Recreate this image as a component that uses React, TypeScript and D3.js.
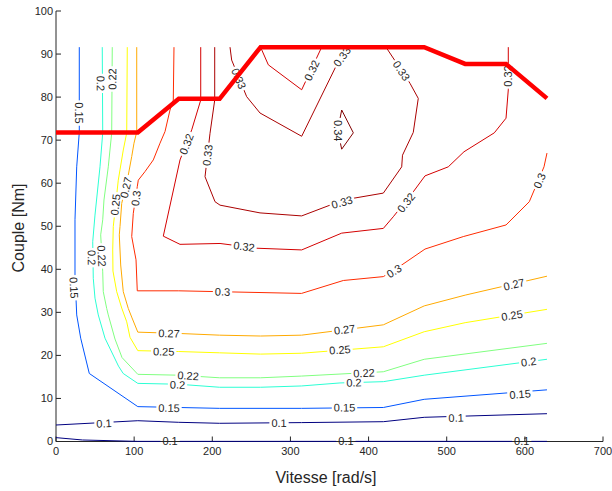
import React from "react";
import * as d3 from "d3";

type P = [number, number];

// Axis ticks
const xTicks = [0, 100, 200, 300, 400, 500, 600, 700];
const yTicks = [0, 10, 20, 30, 40, 50, 60, 70, 80, 90, 100];

// Maximum torque curve (speed rad/s, torque Nm)
const maxSpeed = [0, 104.7, 157.1, 209.4, 261.8, 471.2, 523.6, 575.9, 628.3];
const maxTorque = [71.8, 71.8, 79.6, 79.6, 91.6, 91.6, 87.7, 87.7, 79.7];

// Efficiency iso-contours (speed, torque)
const c010a: P[] = [[0, 3.83], [104.7, 4.83], [157.1, 4.46], [209.4, 4.23], [314.2, 4.39], [418.9, 4.6], [471.2, 5.62], [628.3, 6.46]];
const c010b: P[] = [[0, 0.9], [34, 0.35], [104.7, 0.03], [628.3, 0.03]];
const c015: P[] = [[29.8, 91.6], [29.8, 71.8], [26.5, 63.8], [24.3, 51.5], [24.3, 38.7], [26.5, 29.4], [31.6, 24.0], [42.6, 15.8], [104.7, 8.1], [157.1, 7.9], [209.4, 7.7], [314.2, 7.7], [418.9, 7.9], [471.2, 9.8], [628.3, 12.0]];
const c020: P[] = [[59.2, 91.6], [59.8, 71.7], [56.3, 63.8], [49.9, 52.6], [47.0, 46.4], [47.7, 37.9], [49.9, 33.3], [54.1, 29.4], [62.7, 24.0], [80, 17.5], [86, 15.8], [104.7, 13.5], [157.1, 13.3], [209.4, 12.6], [261.8, 12.6], [314.2, 12.9], [363.4, 13.6], [418.9, 13.9], [471.2, 15.4], [628.3, 19.1]];
const c022: P[] = [[72.0, 91.6], [71.3, 71.7], [66.9, 63.8], [61.4, 56.1], [59.8, 51.5], [57.2, 48.0], [59.8, 39.4], [60.5, 34.8], [64.9, 30.9], [66.9, 29.4], [75.5, 23.8], [84.5, 19.5], [104.7, 15.6], [157.1, 15.4], [209.4, 14.8], [261.8, 14.8], [314.2, 15.2], [418.9, 16.2], [471.2, 19.1], [628.3, 22.8]];
const c025: P[] = [[91.2, 91.6], [90.5, 71.7], [86.1, 67.7], [81.9, 63.1], [79.7, 60.7], [73.3, 49.9], [72.6, 44.5], [72.9, 39.6], [77.7, 34.8], [84.1, 31.0], [90.5, 27.8], [94.7, 24.2], [104.7, 21.1], [157.1, 20.9], [209.4, 20.6], [261.8, 20.3], [314.2, 20.5], [418.9, 22.0], [471.2, 25.5], [523.6, 27.6], [628.3, 30.7]];
const c027: P[] = [[103.3, 91.6], [103.3, 71.9], [99.8, 69.3], [96.9, 66.2], [92.5, 61.9], [84.1, 55.3], [81.9, 49.9], [81.0, 48.0], [82.8, 41.0], [86.1, 34.8], [92.5, 30.9], [97.3, 28.7], [104.7, 25.4], [157.1, 25.1], [209.4, 24.7], [261.8, 24.5], [314.2, 24.7], [418.9, 27.1], [471.2, 31.5], [523.6, 34.0], [628.3, 38.4]];
const c030: P[] = [[151.0, 91.6], [150.1, 79.3], [145.9, 77.0], [139.5, 72.0], [133.1, 69.3], [124.5, 65.4], [113.9, 62.7], [105.3, 60.7], [104.0, 59.2], [98.9, 53.0], [96.9, 47.6], [102.4, 42.2], [104.0, 35.0], [157.1, 35.0], [209.4, 34.8], [314.2, 34.4], [367.7, 37.4], [418.9, 38.3], [442.4, 41.0], [472.2, 44.7], [521.2, 47.6], [575.9, 50.3], [605.7, 55.7], [624.5, 63.8], [628.3, 67.0]];
const c032a: P[] = [[185.2, 91.6], [185.2, 79.3], [173.7, 72.4], [158.7, 65.4], [137.3, 47.7], [158.7, 45.8], [209.9, 46.0], [256.8, 44.9], [314.4, 44.5], [365.6, 48.4], [418.9, 49.5], [431.6, 52.2], [457.2, 58.0], [472.2, 61.7], [502.0, 63.8], [522.1, 67.3], [560.9, 71.7], [575.9, 75.1], [578.8, 81.7], [578.8, 91.6]];
const c032b: P[] = [[261.8, 91.6], [271.7, 87.5], [314.4, 81.7], [340, 91.6]];
const c033a: P[] = [[203.1, 91.6], [203.1, 79.3], [197.1, 71.6], [190.7, 61.5], [203.5, 55.7], [209.9, 54.9], [261.1, 53.1], [314.4, 52.4], [350.6, 54.9], [380.5, 56.5], [418.9, 57.7], [442.4, 63.8], [443.4, 66.5], [457.2, 71.8], [463.6, 79.7], [453.0, 83.2], [422.3, 91.6]];
const c033b: P[] = [[222.7, 91.6], [224.8, 88.6], [244.0, 80.1], [261.1, 76.3], [314.4, 70.9], [359.2, 87.5], [375, 91.6]];
const c034: P[] = [[365.6, 77.0], [380.5, 71.7], [365.6, 67.9], [360.5, 72.3], [365.6, 77.0]];

const contourLevels = [0.1, 0.1, 0.15, 0.2, 0.22, 0.25, 0.27, 0.3, 0.32, 0.32, 0.33, 0.33, 0.34];
const contourLines = [c010a, c010b, c015, c020, c022, c025, c027, c030, c032a, c032b, c033a, c033b, c034];

// Contour labels: [level, speed, torque, optional rotation]
const labelDefs: number[][] = [
  [0.1, 61.4, 4.2], [0.1, 285.4, 4.3], [0.1, 512, 5.5], [0.1, 146, 0.1], [0.1, 371, 0.1], [0.1, 596, 0.1],
  [0.15, 29.8, 76.3], [0.15, 23.0, 35.7], [0.15, 144.6, 7.8], [0.15, 369.2, 7.9], [0.15, 593.8, 11.0],
  [0.2, 57.2, 83.2], [0.2, 45.7, 42.7], [0.2, 155.5, 13.2], [0.2, 381.3, 13.7], [0.2, 604.9, 18.5],
  [0.22, 72.0, 84.2], [0.22, 58.5, 43.1], [0.22, 169, 15.3], [0.22, 394.1, 15.9],
  [0.25, 76, 55], [0.25, 137.8, 20.9], [0.25, 363.4, 21.3], [0.25, 583.5, 29.3],
  [0.27, 89.5, 59], [0.27, 144.6, 25.1], [0.27, 369.2, 26.0], [0.27, 586.1, 36.5],
  [0.3, 102.3, 56.5], [0.3, 213.1, 34.8], [0.3, 432.5, 39.6], [0.3, 618.7, 60.6],
  [0.32, 167, 69.1], [0.32, 240.6, 45.3], [0.32, 447.9, 55.5], [0.32, 327.2, 86.2], [0.32, 578.8, 84.9, -90],
  [0.33, 193.9, 66.5], [0.33, 366, 55.6], [0.33, 442.1, 86.1], [0.33, 366, 89.4], [0.33, 234, 84.3],
  [0.34, 360.5, 72.2, 90],
];

const W = 612;
const H = 491;
const FONT = "'Liberation Sans', Arial, Helvetica, sans-serif";
const LABEL_FS = 11;

function jet(v: number): string {
  const t = Math.max(0, Math.min(1, (v - 0.1) / 0.24));
  const c = (q: number) => Math.max(0, Math.min(1, q));
  const r = c(1.5 - Math.abs(4 * t - 3));
  const g = c(1.5 - Math.abs(4 * t - 2));
  const b = c(1.5 - Math.abs(4 * t - 1));
  return d3.rgb(r * 255, g * 255, b * 255).formatHex();
}

function textWidth(s: string, fs: number) {
  let w = 0;
  for (const ch of s) w += ch === "." ? 0.278 : 0.556;
  return w * fs;
}

export default function App() {
  const xs = d3.scaleLinear().domain([0, 700]).range([56, 603]);
  const ys = d3.scaleLinear().domain([0, 100]).range([441.5, 11]);
  const line = d3.line<P>().x((d) => xs(d[0])).y((d) => ys(d[1]));

  const uniqueLevels = Array.from(new Set(contourLevels));

  const labels = labelDefs.map(([lv, sx, sy, rot]) => {
    const px = xs(sx);
    const py = ys(sy);
    let best = Infinity;
    let ang = 0;
    contourLines.forEach((pts, i) => {
      if (contourLevels[i] !== lv) return;
      for (let k = 0; k < pts.length - 1; k++) {
        const ax = xs(pts[k][0]), ay = ys(pts[k][1]);
        const bx = xs(pts[k + 1][0]), by = ys(pts[k + 1][1]);
        const dx = bx - ax, dy = by - ay;
        const L2 = dx * dx + dy * dy || 1;
        let t = ((px - ax) * dx + (py - ay) * dy) / L2;
        t = Math.max(0, Math.min(1, t));
        const qx = ax + t * dx - px, qy = ay + t * dy - py;
        const d = qx * qx + qy * qy;
        if (d < best) {
          best = d;
          let a = (Math.atan2(dy, dx) * 180) / Math.PI;
          if (a > 90) a -= 180;
          if (a <= -90) a += 180;
          ang = a;
        }
      }
    });
    if (rot !== undefined) ang = rot;
    const text = String(lv);
    return { lv, px, py, ang, text, w: textWidth(text, LABEL_FS) };
  });

  const redLine: P[] = maxSpeed.map((s, i) => [s, maxTorque[i]]);

  return (
    <svg
      width={W}
      height={H}
      style={{ position: "absolute", left: 0, top: 0, background: "#fff" }}
      fontFamily={FONT}
    >
      <rect x={0} y={0} width={W} height={H} fill="#fff" />
      <defs>
        {uniqueLevels.map((lv, i) => (
          <mask key={i} id={`m${i}`} maskUnits="userSpaceOnUse" x={0} y={0} width={W} height={H}>
            <rect x={0} y={0} width={W} height={H} fill="#fff" />
            {labels
              .filter((l) => l.lv === lv)
              .map((l, j) => (
                <rect
                  key={j}
                  transform={`translate(${l.px},${l.py}) rotate(${l.ang})`}
                  x={-(l.w + 4) / 2}
                  y={-5}
                  width={l.w + 4}
                  height={10}
                  fill="#000"
                />
              ))}
          </mask>
        ))}
      </defs>

      {/* axes */}
      <line x1={xs(0)} x2={xs(0)} y1={ys(0)} y2={ys(100)} stroke="#262626" strokeWidth={1} />
      <line x1={xs(0)} x2={xs(700)} y1={ys(0)} y2={ys(0)} stroke="#262626" strokeWidth={1} />
      {xTicks.map((t) => (
        <g key={`xt${t}`}>
          <line x1={xs(t)} x2={xs(t)} y1={ys(0)} y2={ys(0) - 5} stroke="#262626" strokeWidth={1} />
          <text x={xs(t)} y={455} textAnchor="middle" fontSize={11} fill="#262626">
            {t}
          </text>
        </g>
      ))}
      {yTicks.map((t) => (
        <g key={`yt${t}`}>
          <line x1={xs(0)} x2={xs(0) + 5} y1={ys(t)} y2={ys(t)} stroke="#262626" strokeWidth={1} />
          <text x={53} y={ys(t)} dy="0.36em" textAnchor="end" fontSize={11} fill="#262626">
            {t}
          </text>
        </g>
      ))}

      {/* contours */}
      {uniqueLevels.map((lv, i) => (
        <g key={`c${i}`} mask={`url(#m${i})`}>
          {contourLines.map((pts, k) =>
            contourLevels[k] === lv ? (
              <path key={k} d={line(pts) || ""} fill="none" stroke={jet(lv)} strokeWidth={1} />
            ) : null
          )}
        </g>
      ))}

      {/* contour labels */}
      {labels.map((l, i) => (
        <text
          key={`l${i}`}
          transform={`translate(${l.px},${l.py}) rotate(${l.ang})`}
          textAnchor="middle"
          dy="0.36em"
          fontSize={LABEL_FS}
          fill="#262626"
        >
          {l.text}
        </text>
      ))}

      {/* max torque curve */}
      <path d={line(redLine) || ""} fill="none" stroke="#ff0000" strokeWidth={4.5} strokeLinejoin="miter" />

      {/* axis titles */}
      <text x={326} y={483} textAnchor="middle" fontSize={16} fill="#262626">
        Vitesse [rad/s]
      </text>
      <text
        transform={`translate(24,228) rotate(-90)`}
        textAnchor="middle"
        fontSize={16}
        fill="#262626"
      >
        Couple [Nm]
      </text>
    </svg>
  );
}
